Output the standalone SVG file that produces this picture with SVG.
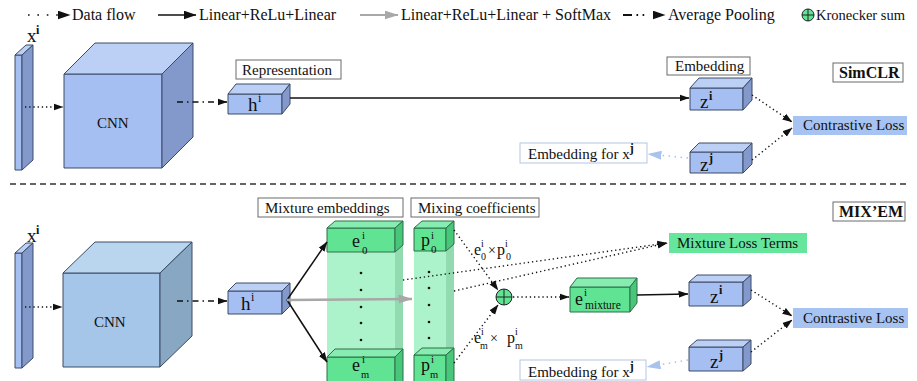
<svg xmlns="http://www.w3.org/2000/svg" width="917" height="381" viewBox="0 0 917 381" font-family="'Liberation Serif','Times New Roman',serif">
<defs>
<style>
text{font-family:"Liberation Serif","Times New Roman",serif;fill:#111}
.lg{font-size:16px}
.lb{font-size:15px}
.b{font-weight:bold}
.box{fill:#fff;stroke:#6b6b6b;stroke-width:1}
.boxb{fill:#fff;stroke:#b3c6e4;stroke-width:1}
.ed{stroke:#3d4a66;stroke-width:1;stroke-linejoin:round}
.bf{fill:#a6bff2}.bt{fill:#bccff5}.bs{fill:#8399cc}
.cf{fill:#a5c6e8}.ct{fill:#bad6ef}.cs{fill:#88a7c3}
.gf{fill:#60e393}.gt{fill:#86ecb0}.gs{fill:#48c67a}
.eg{stroke:#2f6f4b;stroke-width:1;stroke-linejoin:round}
.colf{fill:#a3f1c4;fill-opacity:0.9}
.cols{fill:#86d6a6;fill-opacity:0.9}
.dot{fill:none;stroke:#111;stroke-width:1.4;stroke-dasharray:1.3 2.9}
.dd{fill:none;stroke:#111;stroke-width:1.3;stroke-dasharray:6 4 1.5 4}
.sol{fill:none;stroke:#111;stroke-width:1.5}
.gr{fill:none;stroke:#a8a8a8;stroke-width:2.5}
.lbd{fill:none;stroke:#a9c3ee;stroke-width:1.6;stroke-dasharray:1.5 4.5}
.pt{fill:#111}
</style>
<marker id="ah" viewBox="0 0 10 8" refX="9.5" refY="4" markerWidth="10" markerHeight="8" markerUnits="userSpaceOnUse" orient="auto"><path d="M0,0.5 L10,4 L0,7.5 z" fill="#111"/></marker>
<marker id="ahL" viewBox="0 0 13 9" refX="12.5" refY="4.5" markerWidth="13" markerHeight="9" markerUnits="userSpaceOnUse" orient="auto"><path d="M0,0 L13,4.5 L0,9 z" fill="#111"/></marker>
<marker id="ahG" viewBox="0 0 14 9" refX="13.5" refY="4.5" markerWidth="14" markerHeight="9" markerUnits="userSpaceOnUse" orient="auto"><path d="M0,0 L14,4.5 L0,9 z" fill="#a8a8a8"/></marker>
<marker id="ahB" viewBox="0 0 14 9" refX="13.5" refY="4.5" markerWidth="14" markerHeight="9" markerUnits="userSpaceOnUse" orient="auto"><path d="M0,0 L14,4.5 L0,9 z" fill="#a9c3ee"/></marker>
</defs>
<rect width="917" height="381" fill="#fff"/>

<!-- legend -->
<g id="legend">
<line x1="28" y1="15" x2="70" y2="15" fill="none" stroke="#111" stroke-width="1.6" stroke-dasharray="1.6 7.8" marker-end="url(#ahL)"/>
<text class="lg" x="72" y="20">Data flow</text>
<line class="sol" x1="158" y1="15" x2="196" y2="15" stroke-width="2" marker-end="url(#ahL)"/>
<text class="lg" x="199" y="20">Linear+ReLu+Linear</text>
<line x1="360" y1="15" x2="398" y2="15" stroke="#a8a8a8" stroke-width="2" marker-end="url(#ahG)"/>
<text class="lg" x="401" y="20">Linear+ReLu+Linear + SoftMax</text>
<path d="M623,15 H665" fill="none" stroke="#111" stroke-width="1.8" stroke-dasharray="9 4.5 1.6 4.5 1.6 30" marker-end="url(#ahL)"/>
<text class="lg" x="668" y="20">Average Pooling</text>
<circle cx="808" cy="15" r="6" fill="#60e393" stroke="#222" stroke-width="1"/>
<path d="M802,15 H814 M808,9 V21" stroke="#222" stroke-width="1"/>
<text x="816" y="20" font-size="14.5">Kronecker sum</text>
</g>

<line x1="10" y1="184" x2="907" y2="184" stroke="#333" stroke-width="1.5" stroke-dasharray="6 4"/>

<!-- SimCLR branch -->
<g id="simclr-xi">
<polygon class="bf ed" points="15,55 22,55 22,170 15,170"/>
<polygon class="bt ed" points="15,55 26,45 33,45 22,55"/>
<polygon class="bs ed" points="22,55 33,45 33,160 22,170"/>
<text x="27" y="42" font-size="19">x</text><text class="b" x="36" y="34" font-size="12">i</text>
</g>
<g id="simclr-cnn">
<polygon class="bf ed" points="64,74 162,74 162,168 64,168"/>
<polygon class="bt ed" points="64,74 95,43 193,43 162,74"/>
<polygon class="bs ed" points="162,74 193,43 193,137 162,168"/>
<text class="lb" x="97" y="128">CNN</text>
</g>
<g id="simclr-h">
<rect class="box" x="236" y="60" width="105" height="19"/>
<text class="lb" x="242" y="75">Representation</text>
<polygon class="bf ed" points="228,94 282,94 282,114 228,114"/>
<polygon class="bt ed" points="228,94 236,84 290,84 282,94"/>
<polygon class="bs ed" points="282,94 290,84 290,104 282,114"/>
<text x="248" y="111" font-size="19">h</text><text x="258" y="102" font-size="12">i</text>
</g>
<g id="simclr-zi">
<rect class="box" x="667" y="57" width="83" height="18"/>
<text class="lb" x="675" y="71">Embedding</text>
<polygon class="bf ed" points="690,88 743,88 743,110 690,110"/>
<polygon class="bt ed" points="690,88 699,78 752,78 743,88"/>
<polygon class="bs ed" points="743,88 752,78 752,100 743,110"/>
<text x="700" y="108" font-size="19">z</text><text class="b" x="709" y="100" font-size="12">i</text>
</g>
<g id="simclr-zj">
<polygon class="bf ed" points="690,152 743,152 743,173 690,173"/>
<polygon class="bt ed" points="690,152 699,143 752,143 743,152"/>
<polygon class="bs ed" points="743,152 752,143 752,164 743,173"/>
<text x="700" y="171" font-size="19">z</text><text class="b" x="709" y="162" font-size="12">j</text>
</g>
<g id="simclr-embj">
<rect class="boxb" x="520" y="143" width="127" height="20"/>
<text class="lb" x="528" y="159">Embedding for x<tspan class="b" font-size="12" dy="-7">j</tspan></text>
</g>
<g id="simclr-loss">
<rect x="793" y="116" width="114" height="19" fill="#a6c3f2"/>
<text class="lb" x="803" y="130">Contrastive Loss</text>
</g>
<g id="simclr-title">
<rect class="box" x="833" y="63" width="70" height="19"/>
<text class="b" x="839" y="78" font-size="16">SimCLR</text>
</g>

<!-- MIX'EM branch -->
<g id="mixem-xi">
<polygon class="bf ed" points="15,253 22,253 22,368 15,368"/>
<polygon class="bt ed" points="15,253 26,243 33,243 22,253"/>
<polygon class="bs ed" points="22,253 33,243 33,358 22,368"/>
<text x="27" y="242" font-size="19">x</text><text class="b" x="36" y="234" font-size="12">i</text>
</g>
<g id="mixem-cnn">
<polygon class="cf ed" points="63,273 160,273 160,367 63,367"/>
<polygon class="ct ed" points="63,273 95,242 192,242 160,273"/>
<polygon class="cs ed" points="160,273 192,242 192,336 160,367"/>
<text class="lb" x="94" y="327">CNN</text>
</g>
<g id="mixem-h">
<polygon class="bf ed" points="228,291 282,291 282,314 228,314"/>
<polygon class="bt ed" points="228,291 236,283 290,283 282,291"/>
<polygon class="bs ed" points="282,291 290,283 290,306 282,314"/>
<text x="241" y="310" font-size="19">h</text><text x="251" y="301" font-size="12">i</text>
</g>
<g id="mixem-embeddings">
<rect class="box" x="258" y="198" width="145" height="19"/>
<text class="lb" x="265" y="213">Mixture embeddings</text>
<rect class="colf" x="327" y="228" width="68" height="155"/>
<polygon class="cols" points="395,228 403,221 403,383 395,383"/>
<g class="pt"><circle cx="361" cy="273" r="1.3"/><circle cx="361" cy="290" r="1.3"/><circle cx="361" cy="307" r="1.3"/><circle cx="361" cy="323" r="1.3"/><circle cx="361" cy="340" r="1.3"/></g>
<polygon class="gf eg" points="327,228 395,228 395,252 327,252"/>
<polygon class="gt eg" points="327,228 335,221 403,221 395,228"/>
<polygon class="gs eg" points="395,228 403,221 403,245 395,252"/>
<text x="352" y="247" font-size="18">e</text><text x="362" y="239" font-size="11">i</text><text x="362" y="254" font-size="11">0</text>
<polygon class="gf eg" points="327,357 395,357 395,383 327,383"/>
<polygon class="gt eg" points="327,357 335,349 403,349 395,357"/>
<polygon class="gs eg" points="395,357 403,349 403,383 395,383"/>
<text x="352" y="371" font-size="18">e</text><text x="362" y="363" font-size="11">i</text><text x="361" y="378" font-size="10.5">m</text>
</g>
<g id="mixem-coefficients">
<rect class="box" x="411" y="198" width="128" height="19"/>
<text class="lb" x="418" y="213">Mixing coefficients</text>
<rect class="colf" x="414" y="228" width="32" height="155"/>
<polygon class="cols" points="446,228 454,221 454,383 446,383"/>
<g class="pt"><circle cx="429" cy="272" r="1.3"/><circle cx="429" cy="288" r="1.3"/><circle cx="429" cy="305" r="1.3"/><circle cx="429" cy="322" r="1.3"/><circle cx="429" cy="338" r="1.3"/></g>
<polygon class="gf eg" points="414,228 446,228 446,251 414,251"/>
<polygon class="gt eg" points="414,228 422,221 454,221 446,228"/>
<polygon class="gs eg" points="446,228 454,221 454,244 446,251"/>
<text x="421" y="246" font-size="18">p</text><text x="431" y="239" font-size="11">i</text><text x="431" y="253" font-size="11">0</text>
<polygon class="gf eg" points="414,355 446,355 446,383 414,383"/>
<polygon class="gt eg" points="414,355 422,348 454,348 446,355"/>
<polygon class="gs eg" points="446,355 454,348 454,383 446,383"/>
<text x="421" y="371" font-size="18">p</text><text x="431" y="363" font-size="11">i</text><text x="430" y="378" font-size="10.5">m</text>
</g>
<g id="mixem-sum">
<circle cx="504" cy="297" r="8" fill="#60e393" stroke="#222" stroke-width="1"/>
<path d="M496,297 H512 M504,289 V305" stroke="#222" stroke-width="1"/>
<text x="474" y="255" font-size="16">e</text><text x="481" y="247" font-size="10">i</text><text x="481" y="260" font-size="10">0</text>
<text x="488" y="255" font-size="14">×</text>
<text x="497" y="255" font-size="16">p</text><text x="505" y="247" font-size="10">i</text><text x="506" y="260" font-size="10">0</text>
<text x="474" y="343" font-size="16">e</text><text x="481" y="335" font-size="10">i</text><text x="480" y="349" font-size="10">m</text>
<text x="490" y="343" font-size="14">×</text>
<text x="507" y="343" font-size="16">p</text><text x="515" y="335" font-size="10">i</text><text x="515" y="349" font-size="10">m</text>
</g>
<g id="mixem-emix">
<polygon class="gf eg" points="570,287 630,287 630,312 570,312"/>
<polygon class="gt eg" points="570,287 577,278 637,278 630,287"/>
<polygon class="gs eg" points="630,287 637,278 637,303 630,312"/>
<text x="575" y="305" font-size="18">e</text><text x="584" y="296" font-size="11">i</text><text x="585" y="309" font-size="11.5">mixture</text>
</g>
<g id="mixem-mixloss">
<rect x="669" y="233" width="138" height="20" fill="#66e69c"/>
<text class="lb" x="677" y="248">Mixture Loss Terms</text>
</g>
<g id="mixem-zi">
<polygon class="bf ed" points="689,282 743,282 743,306 689,306"/>
<polygon class="bt ed" points="689,282 697,275 751,275 743,282"/>
<polygon class="bs ed" points="743,282 751,275 751,299 743,306"/>
<text x="710" y="303" font-size="19">z</text><text class="b" x="719" y="294" font-size="12">i</text>
</g>
<g id="mixem-zj">
<polygon class="bf ed" points="689,347 743,347 743,371 689,371"/>
<polygon class="bt ed" points="689,347 697,340 751,340 743,347"/>
<polygon class="bs ed" points="743,347 751,340 751,364 743,371"/>
<text x="710" y="368" font-size="19">z</text><text class="b" x="719" y="359" font-size="12">j</text>
</g>
<g id="mixem-embj">
<rect class="boxb" x="520" y="360" width="126" height="20"/>
<text class="lb" x="528" y="377">Embedding for x<tspan class="b" font-size="12" dy="-7">j</tspan></text>
</g>
<g id="mixem-loss">
<rect x="793" y="308" width="115" height="20" fill="#a6c3f2"/>
<text class="lb" x="803" y="323">Contrastive Loss</text>
</g>
<g id="mixem-title">
<rect class="box" x="833" y="202" width="72" height="19"/>
<text class="b" x="839" y="217" font-size="16">MIX’EM</text>
</g>

<!-- connectors -->
<g id="connectors">
<line class="dot" x1="25" y1="107" x2="63" y2="107" marker-end="url(#ah)"/>
<line class="dd" x1="177" y1="102" x2="227" y2="102" marker-end="url(#ah)"/>
<line class="sol" x1="290" y1="98" x2="689" y2="98" marker-end="url(#ah)"/>
<line class="dot" x1="752" y1="95" x2="792" y2="122" marker-end="url(#ah)"/>
<line class="dot" x1="752" y1="160" x2="792" y2="128" marker-end="url(#ah)"/>
<line class="lbd" x1="688" y1="158" x2="648" y2="154" marker-end="url(#ahB)"/>

<line class="dot" x1="25" y1="307" x2="62" y2="307" marker-end="url(#ah)"/>
<line class="dd" x1="177" y1="301" x2="227" y2="301" marker-end="url(#ah)"/>
<line class="sol" x1="287" y1="300" x2="327" y2="242" marker-end="url(#ah)"/>
<line class="sol" x1="287" y1="300" x2="327" y2="362" marker-end="url(#ah)"/>
<line class="gr" x1="287" y1="300" x2="412" y2="299" marker-end="url(#ahG)"/>
<line class="dot" x1="403" y1="280" x2="667" y2="243" marker-end="url(#ah)"/>
<line class="dot" x1="454" y1="291" x2="667" y2="243" marker-end="url(#ah)"/>
<line class="dot" x1="454" y1="230" x2="498" y2="290" marker-end="url(#ah)"/>
<line class="dot" x1="454" y1="363" x2="498" y2="305" marker-end="url(#ah)"/>
<line class="dot" x1="513" y1="297" x2="569" y2="297" marker-end="url(#ah)"/>
<line class="sol" x1="637" y1="295" x2="688" y2="294" marker-end="url(#ah)"/>
<line class="dot" x1="751" y1="290" x2="792" y2="316" marker-end="url(#ah)"/>
<line class="dot" x1="751" y1="352" x2="792" y2="320" marker-end="url(#ah)"/>
<line class="lbd" x1="688" y1="360" x2="647" y2="367" marker-end="url(#ahB)"/>
</g>
</svg>
